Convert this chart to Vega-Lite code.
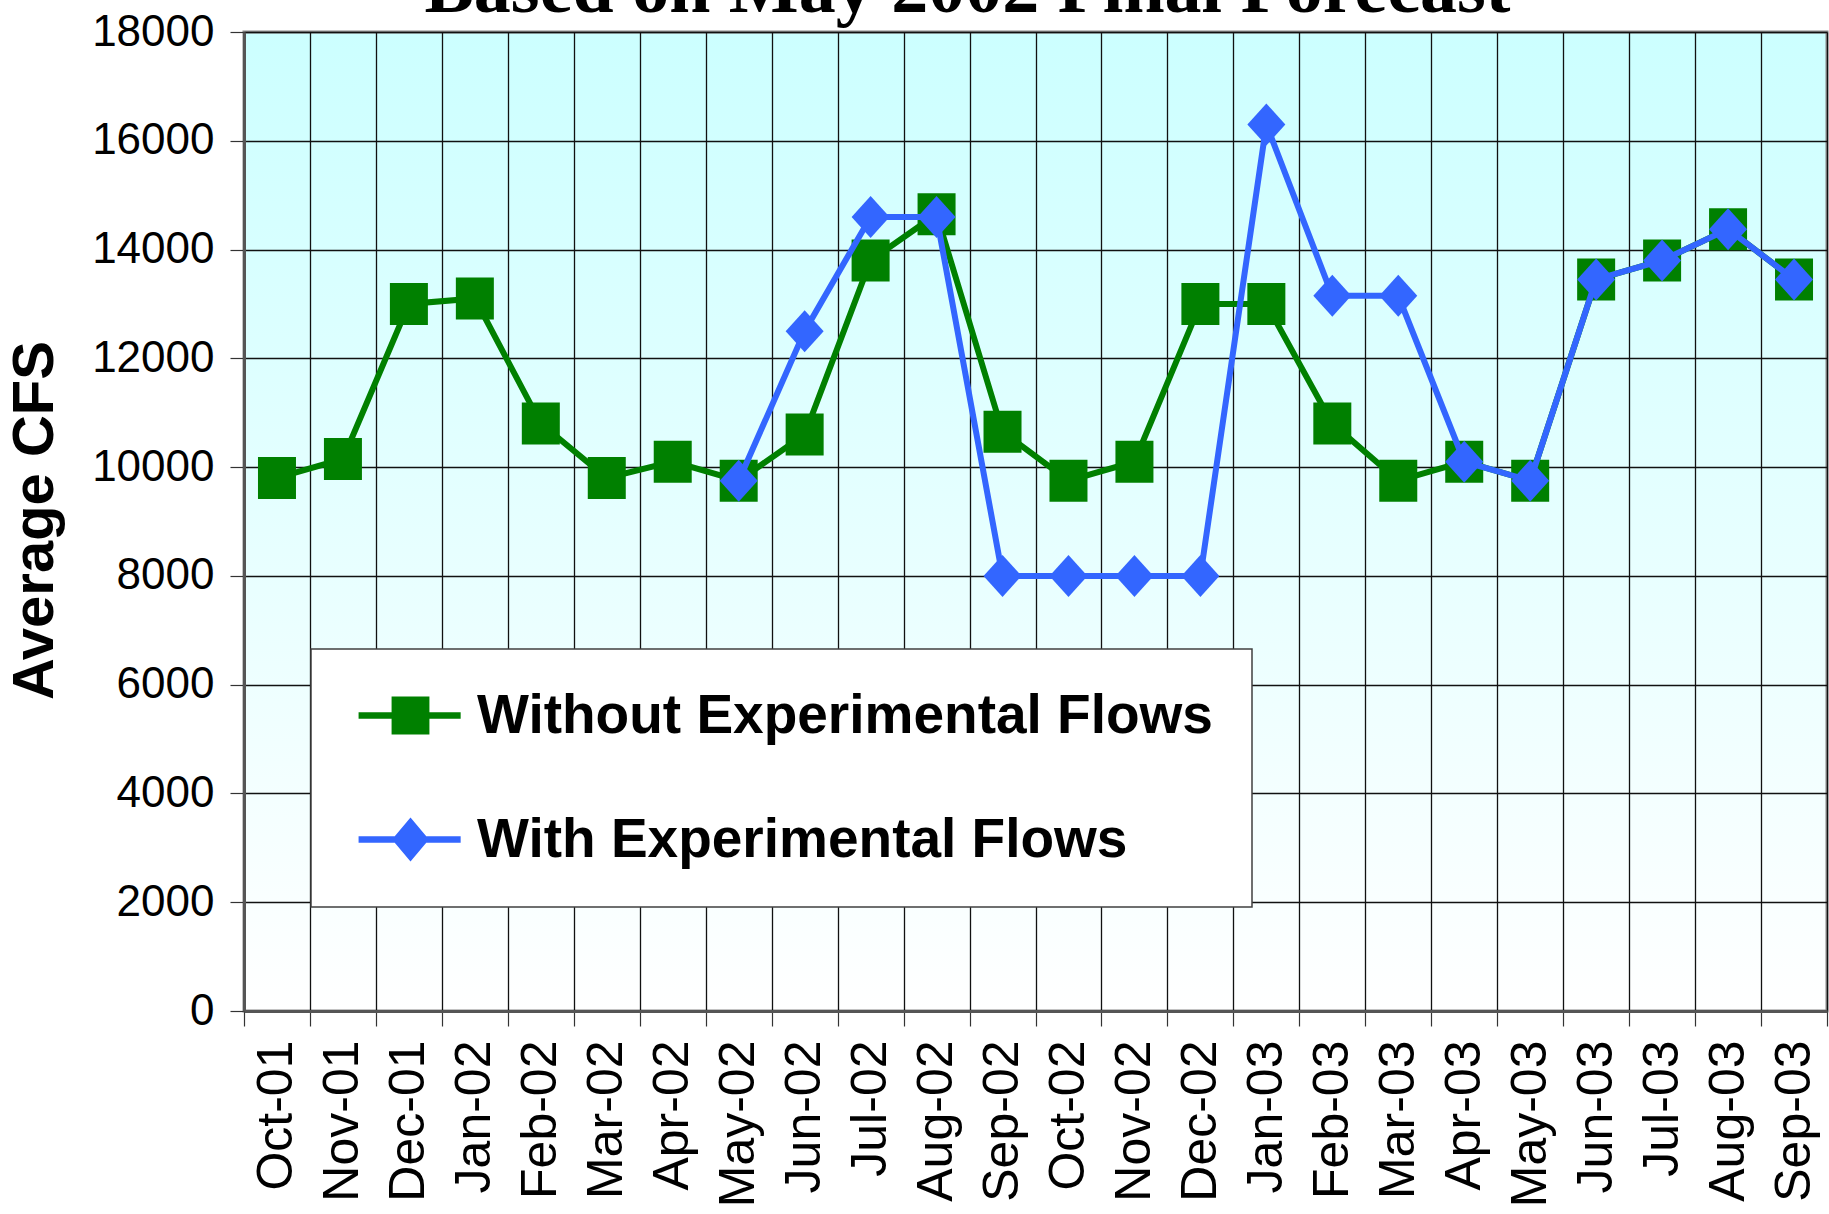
{
  "$schema": "https://vega.github.io/schema/vega-lite/v6.json",
  "autosize": "none",
  "width": 1583,
  "height": 979,
  "padding": {"left": 244, "top": 32, "right": 2, "bottom": 203},
  "background": "white",
  "title": {
    "text": "Based on May 2002 Final Forecast",
    "font": "Liberation Serif",
    "fontSize": 74,
    "fontWeight": "bold",
    "color": "black",
    "anchor": "middle",
    "frame": "group",
    "dx": -68,
    "dy": 76,
    "baseline": "alphabetic",
    "offset": 0
  },
  "data": {
    "values": [
      {"month": "Oct-01", "series": "Without Experimental Flows", "value": 9800},
      {"month": "Nov-01", "series": "Without Experimental Flows", "value": 10150},
      {"month": "Dec-01", "series": "Without Experimental Flows", "value": 13000},
      {"month": "Jan-02", "series": "Without Experimental Flows", "value": 13100},
      {"month": "Feb-02", "series": "Without Experimental Flows", "value": 10800},
      {"month": "Mar-02", "series": "Without Experimental Flows", "value": 9800},
      {"month": "Apr-02", "series": "Without Experimental Flows", "value": 10100},
      {"month": "May-02", "series": "Without Experimental Flows", "value": 9750},
      {"month": "Jun-02", "series": "Without Experimental Flows", "value": 10600},
      {"month": "Jul-02", "series": "Without Experimental Flows", "value": 13800},
      {"month": "Aug-02", "series": "Without Experimental Flows", "value": 14650},
      {"month": "Sep-02", "series": "Without Experimental Flows", "value": 10650},
      {"month": "Oct-02", "series": "Without Experimental Flows", "value": 9750},
      {"month": "Nov-02", "series": "Without Experimental Flows", "value": 10100},
      {"month": "Dec-02", "series": "Without Experimental Flows", "value": 13000},
      {"month": "Jan-03", "series": "Without Experimental Flows", "value": 13000},
      {"month": "Feb-03", "series": "Without Experimental Flows", "value": 10800},
      {"month": "Mar-03", "series": "Without Experimental Flows", "value": 9750},
      {"month": "Apr-03", "series": "Without Experimental Flows", "value": 10100},
      {"month": "May-03", "series": "Without Experimental Flows", "value": 9750},
      {"month": "Jun-03", "series": "Without Experimental Flows", "value": 13450},
      {"month": "Jul-03", "series": "Without Experimental Flows", "value": 13800},
      {"month": "Aug-03", "series": "Without Experimental Flows", "value": 14375},
      {"month": "Sep-03", "series": "Without Experimental Flows", "value": 13450},
      {"month": "May-02", "series": "With Experimental Flows", "value": 9750},
      {"month": "Jun-02", "series": "With Experimental Flows", "value": 12500},
      {"month": "Jul-02", "series": "With Experimental Flows", "value": 14600},
      {"month": "Aug-02", "series": "With Experimental Flows", "value": 14600},
      {"month": "Sep-02", "series": "With Experimental Flows", "value": 8000},
      {"month": "Oct-02", "series": "With Experimental Flows", "value": 8000},
      {"month": "Nov-02", "series": "With Experimental Flows", "value": 8000},
      {"month": "Dec-02", "series": "With Experimental Flows", "value": 8000},
      {"month": "Jan-03", "series": "With Experimental Flows", "value": 16300},
      {"month": "Feb-03", "series": "With Experimental Flows", "value": 13150},
      {"month": "Mar-03", "series": "With Experimental Flows", "value": 13150},
      {"month": "Apr-03", "series": "With Experimental Flows", "value": 10100},
      {"month": "May-03", "series": "With Experimental Flows", "value": 9750},
      {"month": "Jun-03", "series": "With Experimental Flows", "value": 13450},
      {"month": "Jul-03", "series": "With Experimental Flows", "value": 13800},
      {"month": "Aug-03", "series": "With Experimental Flows", "value": 14375},
      {"month": "Sep-03", "series": "With Experimental Flows", "value": 13450}
    ]
  },
  "encoding": {
    "x": {
      "field": "month",
      "type": "ordinal",
      "sort": ["Oct-01","Nov-01","Dec-01","Jan-02","Feb-02","Mar-02","Apr-02","May-02","Jun-02","Jul-02","Aug-02","Sep-02","Oct-02","Nov-02","Dec-02","Jan-03","Feb-03","Mar-03","Apr-03","May-03","Jun-03","Jul-03","Aug-03","Sep-03"],
      "scale": {"type": "band", "paddingInner": 0, "paddingOuter": 0},
      "bandPosition": 0.5,
      "title": null,
      "axis": {
        "tickBand": "extent",
        "labelAngle": -90,
        "labelFont": "Liberation Sans",
        "labelFontSize": 50,
        "labelColor": "black",
        "labelPadding": 14,
        "tickSize": 15,
        "tickColor": "#333333",
        "tickWidth": 1.2,
        "domainColor": "#555555",
        "domainWidth": 3,
        "grid": true,
        "gridColor": "#111111",
        "gridWidth": 1.3,
        "labelLimit": 400
      }
    },
    "y": {
      "field": "value",
      "type": "quantitative",
      "scale": {"domain": [0, 18000], "nice": false, "zero": true},
      "title": "Average CFS",
      "axis": {
        "values": [0, 2000, 4000, 6000, 8000, 10000, 12000, 14000, 16000, 18000],
        "format": "d",
        "labelFont": "Liberation Sans",
        "labelFontSize": 44,
        "labelColor": "black",
        "labelPadding": 16,
        "tickSize": 14,
        "tickColor": "#333333",
        "tickWidth": 1.2,
        "domainColor": "#555555",
        "domainWidth": 3,
        "grid": true,
        "gridColor": "#111111",
        "gridWidth": 1.3,
        "titleFont": "Liberation Sans",
        "titleFontSize": 58,
        "titleFontWeight": "bold",
        "titleColor": "black",
        "titleAngle": 270,
        "titleAlign": "center",
        "titleBaseline": "middle",
        "titleX": -209,
        "titleY": 488
      }
    },
    "color": {
      "field": "series",
      "type": "nominal",
      "scale": {
        "domain": ["Without Experimental Flows", "With Experimental Flows"],
        "range": ["#008000", "#3366ff"]
      },
      "legend": {
        "orient": "none",
        "legendX": 67,
        "legendY": 617,
        "title": null,
        "padding": 39,
        "fillColor": "white",
        "strokeColor": "#404040",
        "labelFont": "Liberation Sans",
        "labelFontSize": 55,
        "labelFontWeight": "bold",
        "labelColor": "black",
        "labelOffset": 72,
        "labelLimit": 2000,
        "rowPadding": 68,
        "symbolSize": 1936,
        "symbolStrokeWidth": 0,
        "encode": {
          "symbols": {
            "update": {
              "shape": {"signal": "datum.value === 'Without Experimental Flows' ? 'M-0.86,-0.15H3.78V0.15H-0.86Z M0.64,-0.86H2.36V0.86H0.64Z' : 'M-0.86,-0.15H3.78V0.15H-0.86Z M1.5,-1L2.34,0L1.5,1L0.66,0Z'"},
              "fill": {"scale": "color", "field": "value"},
              "stroke": {"value": "transparent"},
              "strokeWidth": {"value": 0},
              "opacity": {"value": 1},
              "size": {"value": 1936}
            }
          }
        }
      }
    }
  },
  "layer": [
    {
      "transform": [{"filter": "datum.series === 'Without Experimental Flows'"}],
      "mark": {"type": "line", "strokeWidth": 6}
    },
    {
      "transform": [{"filter": "datum.series === 'Without Experimental Flows'"}],
      "mark": {"type": "point", "filled": true, "size": 1600, "opacity": 1, "shape": "M-0.95,-1.05H0.95V1.05H-0.95Z"}
    },
    {
      "transform": [{"filter": "datum.series === 'With Experimental Flows'"}],
      "mark": {"type": "line", "strokeWidth": 6}
    },
    {
      "transform": [{"filter": "datum.series === 'With Experimental Flows'"}],
      "mark": {"type": "point", "filled": true, "size": 1600, "opacity": 1, "shape": "M0,-1.05L0.95,0L0,1.05L-0.95,0Z"}
    }
  ],
  "config": {
    "view": {
      "fill": {
        "gradient": "linear",
        "x1": 0, "y1": 0, "x2": 0, "y2": 1,
        "stops": [
          {"offset": 0, "color": "#ccffff"},
          {"offset": 1, "color": "#ffffff"}
        ]
      },
      "stroke": "#888888",
      "strokeWidth": 3
    },
    "legend": {"strokeWidth": 1.5, "cornerRadius": 0}
  }
}
